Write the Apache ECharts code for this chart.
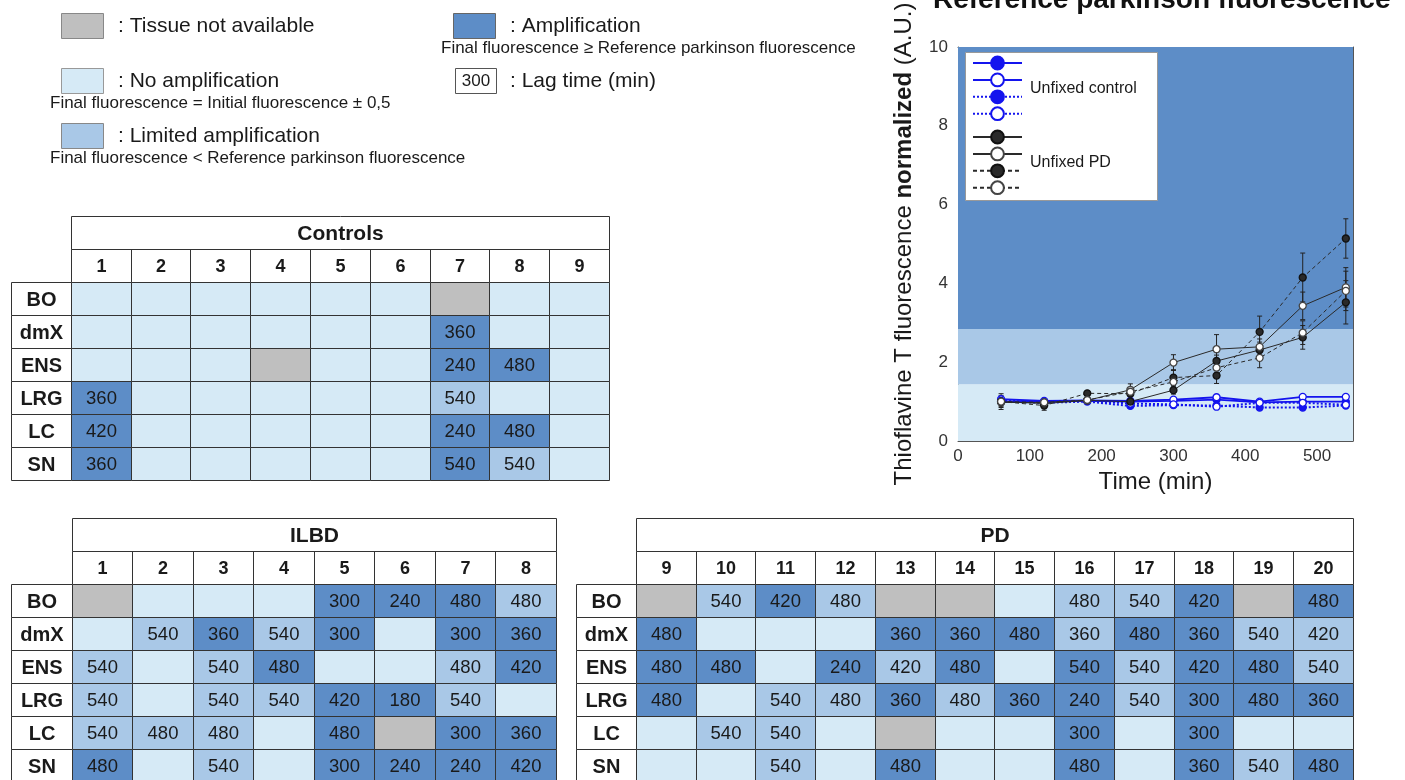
<!DOCTYPE html>
<html><head><meta charset="utf-8">
<script src="https://cdn.jsdelivr.net/npm/echarts@6/dist/echarts.min.js"></script>
<style>html,body{margin:0;padding:0;background:#fff}#c{width:1405px;height:780px}</style>
</head><body><div id="c"></div>
<script>
// ---------- table data ----------
const regions = ['BO','dmX','ENS','LRG','LC','SN'];
const ctrlCols = ['1','2','3','4','5','6','7','8','9'];
const ilbdCols = ['1','2','3','4','5','6','7','8'];
const pdCols = ['9','10','11','12','13','14','15','16','17','18','19','20'];
// status: 0 tissue not available, 1 no amplification, 2 limited amplification, 3 amplification
const ctrlStatus = [
 [1,1,1,1,1,1,0,1,1],
 [1,1,1,1,1,1,3,1,1],
 [1,1,1,0,1,1,3,3,1],
 [3,1,1,1,1,1,2,1,1],
 [3,1,1,1,1,1,3,3,1],
 [3,1,1,1,1,1,3,2,1]];
const ctrlLag = [
 [null,null,null,null,null,null,null,null,null],
 [null,null,null,null,null,null,360,null,null],
 [null,null,null,null,null,null,240,480,null],
 [360,null,null,null,null,null,540,null,null],
 [420,null,null,null,null,null,240,480,null],
 [360,null,null,null,null,null,540,540,null]];
const ilbdStatus = [
 [0,1,1,1,3,3,3,2],
 [1,2,3,2,3,1,3,3],
 [2,1,2,3,1,1,2,3],
 [2,1,2,2,3,3,2,1],
 [2,2,2,1,3,0,3,3],
 [3,1,2,1,3,3,3,3]];
const ilbdLag = [
 [null,null,null,null,300,240,480,480],
 [null,540,360,540,300,null,300,360],
 [540,null,540,480,null,null,480,420],
 [540,null,540,540,420,180,540,null],
 [540,480,480,null,480,null,300,360],
 [480,null,540,null,300,240,240,420]];
const pdStatus = [
 [0,2,3,2,0,0,1,2,2,3,0,3],
 [3,1,1,1,3,3,3,2,3,3,2,2],
 [3,3,1,3,2,3,1,3,2,3,3,2],
 [3,1,2,2,3,2,3,3,2,3,3,3],
 [1,2,2,1,0,1,1,3,1,3,1,1],
 [1,1,2,1,3,1,1,3,1,3,2,3]];
const pdLag = [
 [null,540,420,480,null,null,null,480,540,420,null,480],
 [480,null,null,null,360,360,480,360,480,360,540,420],
 [480,480,null,240,420,480,null,540,540,420,480,540],
 [480,null,540,480,360,480,360,240,540,300,480,360],
 [null,540,540,null,null,null,null,300,null,300,null,null],
 [null,null,540,null,480,null,null,480,null,360,540,480]];

// ---------- kinetics data ----------
const times = [60,120,180,240,300,360,420,480,540];
const ctrlSolidFilled = [1.00,1.00,1.02,1.00,1.02,1.05,0.98,1.00,1.00];
const ctrlSolidOpen   = [1.06,1.02,1.03,1.02,1.05,1.11,1.00,1.12,1.12];
const ctrlDotFilled   = [1.00,0.97,1.00,0.89,0.91,0.90,0.85,0.85,0.90];
const ctrlDotOpen     = [1.02,1.00,1.02,0.95,0.93,0.87,0.97,0.97,0.92];
const pdSolidFilled   = [1.00,0.95,1.03,1.00,1.29,2.03,2.31,2.63,3.52];
const pdSolidOpen     = [0.98,0.98,1.03,1.30,1.99,2.33,2.39,3.43,3.90];
const pdDashFilled    = [1.00,0.90,1.21,1.20,1.61,1.66,2.77,4.15,5.14];
const pdDashOpen      = [1.00,0.98,1.04,1.25,1.50,1.86,2.11,2.75,3.81];
const pdSolidFilledErr = [0.15,0.10,0.05,0.15,0.10,0.15,0.20,0.30,0.55];
const pdSolidOpenErr   = [0.10,0.10,0.05,0.15,0.20,0.37,0.20,0.35,0.50];
const pdDashFilledErr  = [0.20,0.12,0.05,0.12,0.20,0.20,0.40,0.62,0.50];
const pdDashOpenErr    = [0.10,0.08,0.05,0.10,0.15,0.15,0.25,0.30,0.50];
const bandEdges = [0, 1.44, 2.84, 10];

// ---------- styling ----------
const FONT = '"Liberation Sans", Arial, sans-serif';
const COLORS = ['#bfbfbf','#d6eaf6','#a9c8e7','#5d8dc7'];
const BAND_COLORS = ['#d6eaf6','#a9c8e7','#5d8dc7'];
const BLUE = '#1414ee';
const DARK = '#2a2a2a';

function cellRect(api, c, r, c2) {
  const p = api.coord([c, r]);
  const s = api.size([1, 1]);
  const p2 = c2 == null ? p : api.coord([c2, r]);
  const x0 = Math.round(p[0] - s[0] / 2), x1 = Math.round(p2[0] + s[0] / 2);
  const y0 = Math.round(p[1] - s[1] / 2), y1 = Math.round(p[1] + s[1] / 2);
  return {x: x0 + 0.5, y: y0 + 0.5, width: x1 - x0, height: y1 - y0};
}
function cellGroup(rect, fill, text, font) {
  const ch = [{type: 'rect', shape: rect, style: {fill: fill, stroke: '#333', lineWidth: 1}}];
  if (text != null && text !== '') {
    ch.push({type: 'text', style: {text: String(text), x: rect.x + rect.width / 2, y: rect.y + rect.height / 2 + 1,
      align: 'center', verticalAlign: 'middle', font: font, fill: '#1a1a1a'}});
  }
  return {type: 'group', children: ch};
}

function tableParts(gi, title, cols, status, lag) {
  const cells = [];
  status.forEach((row, r) => row.forEach((s, c) => cells.push({c: c + 1, r: r + 2, s: s, lag: lag[r][c]})));
  const heads = cols.map((t, c) => ({c: c + 1, r: 1, t: t}));
  const labs = regions.map((t, r) => ({c: 0, r: r + 2, t: t}));
  const xAxis = {type: 'category', gridIndex: gi, data: ['lab'].concat(cols), show: false};
  const yAxis = {type: 'category', gridIndex: gi, data: ['title', 'cols'].concat(regions), inverse: true, show: false};
  const series = [
    {type: 'custom', xAxisIndex: gi, yAxisIndex: gi, silent: true, data: cells.map(d => [d.c, d.r]),
     renderItem: (p, api) => { const d = cells[p.dataIndex];
       return cellGroup(cellRect(api, d.c, d.r), COLORS[d.s], d.lag, '18.5px ' + FONT); }},
    {type: 'custom', xAxisIndex: gi, yAxisIndex: gi, silent: true, data: heads.map(d => [d.c, d.r]),
     renderItem: (p, api) => { const d = heads[p.dataIndex];
       return cellGroup(cellRect(api, d.c, d.r), '#fff', d.t, 'bold 18px ' + FONT); }},
    {type: 'custom', xAxisIndex: gi, yAxisIndex: gi, silent: true, data: labs.map(d => [d.c, d.r]),
     renderItem: (p, api) => { const d = labs[p.dataIndex];
       return cellGroup(cellRect(api, d.c, d.r), '#fff', d.t, 'bold 20px ' + FONT); }},
    {type: 'custom', xAxisIndex: gi, yAxisIndex: gi, silent: true, data: [[1, 0]],
     renderItem: (p, api) => cellGroup(cellRect(api, 1, 0, cols.length), '#fff', title, 'bold 21px ' + FONT)}
  ];
  return {xAxis, yAxis, series};
}

const tCtrl = tableParts(0, 'Controls', ctrlCols, ctrlStatus, ctrlLag);
const tIlbd = tableParts(1, 'ILBD', ilbdCols, ilbdStatus, ilbdLag);
const tPd = tableParts(2, 'PD', pdCols, pdStatus, pdLag);

function pts(v) { return times.map((t, i) => [t, v[i]]); }
function lineSeries(name, vals, color, dash, width, filled, borderColor) {
  return {
    name: name, type: 'line', xAxisIndex: 3, yAxisIndex: 3, data: pts(vals),
    symbol: 'circle', symbolSize: 7, silent: true, z: 4,
    lineStyle: {color: color, width: width, type: dash},
    itemStyle: {color: filled ? color : '#ffffff', borderColor: borderColor, borderWidth: 1.3, opacity: 1},
    emphasis: {disabled: true}
  };
}
const errData = [];
[[pdSolidFilled, pdSolidFilledErr], [pdSolidOpen, pdSolidOpenErr], [pdDashFilled, pdDashFilledErr], [pdDashOpen, pdDashOpenErr]]
  .forEach(([v, e]) => times.forEach((t, i) => errData.push([t, v[i] - e[i], v[i] + e[i]])));

const lines = [
  lineSeries('Unfixed control A', ctrlSolidFilled, BLUE, 'solid', 1.8, true, BLUE),
  lineSeries('Unfixed control B', ctrlSolidOpen, BLUE, 'solid', 1.8, false, BLUE),
  lineSeries('Unfixed control C', ctrlDotFilled, BLUE, [2, 2], 2, true, BLUE),
  lineSeries('Unfixed control D', ctrlDotOpen, BLUE, [2, 2], 2, false, BLUE),
  lineSeries('Unfixed PD A', pdSolidFilled, DARK, 'solid', 1, true, '#111'),
  lineSeries('Unfixed PD B', pdSolidOpen, DARK, 'solid', 1, false, '#444'),
  lineSeries('Unfixed PD C', pdDashFilled, DARK, [4, 3], 1, true, '#111'),
  lineSeries('Unfixed PD D', pdDashOpen, DARK, [4, 3], 1, false, '#444')
];
lines[0].markArea = {
  silent: true,
  data: BAND_COLORS.map((col, i) => [{yAxis: bandEdges[i], itemStyle: {color: col, opacity: 1}}, {yAxis: bandEdges[i + 1]}])
};
lines[0].z = 2;

const errSeries = {
  type: 'custom', xAxisIndex: 3, yAxisIndex: 3, silent: true, z: 3, data: errData,
  renderItem: (p, api) => {
    const a = api.coord([api.value(0), api.value(1)]);
    const b = api.coord([api.value(0), api.value(2)]);
    const st = {stroke: '#222', lineWidth: 1};
    return {type: 'group', children: [
      {type: 'line', shape: {x1: a[0], y1: a[1], x2: b[0], y2: b[1]}, style: st},
      {type: 'line', shape: {x1: a[0] - 2.5, y1: a[1], x2: a[0] + 2.5, y2: a[1]}, style: st},
      {type: 'line', shape: {x1: b[0] - 2.5, y1: b[1], x2: b[0] + 2.5, y2: b[1]}, style: st}
    ]};
  }
};

const axisCommon = {
  axisLine: {show: true, onZero: false, lineStyle: {color: '#555', width: 1}},
  axisTick: {show: true, inside: true, length: 5, lineStyle: {color: '#555'}},
  splitLine: {show: false}
};

const legendCommon = {
  orient: 'vertical', left: 972, itemWidth: 49, itemHeight: 16, itemGap: 1.5, padding: 0,
  selectedMode: false, formatter: () => '', z: 10, textStyle: {fontSize: 1}
};

const txt = (t, x, y, size) => ({type: 'text', z: 10, style: {text: t, x: x, y: y, verticalAlign: 'middle', font: size + 'px ' + FONT, fill: '#1a1a1a'}});
const box = (x, y, fill, stroke) => ({type: 'rect', z: 10, shape: {x: x + 0.5, y: y + 0.5, width: 42, height: 25}, style: {fill: fill, stroke: stroke, lineWidth: 1}});

const option = {
  animation: false,
  backgroundColor: '#fff',
  textStyle: {fontFamily: FONT},
  title: {text: 'Reference parkinson fluorescence', left: 933, top: -14, padding: 0,
    textStyle: {fontSize: 28, fontWeight: 'bold', color: '#111', fontFamily: FONT}},
  grid: [
    {left: 11, top: 216, width: 598, height: 264, outerBoundsMode: 'none', containLabel: false},
    {left: 11, top: 518, width: 545, height: 264, outerBoundsMode: 'none', containLabel: false},
    {left: 576, top: 518, width: 777, height: 264, outerBoundsMode: 'none', containLabel: false},
    {left: 958, top: 47, width: 395, height: 394, outerBoundsMode: 'none', containLabel: false}
  ],
  xAxis: [tCtrl.xAxis, tIlbd.xAxis, tPd.xAxis,
    Object.assign({type: 'value', gridIndex: 3, min: 0, max: 550, interval: 100, position: 'bottom',
      axisLabel: {fontSize: 17, color: '#333', margin: 7, showMaxLabel: false},
      name: 'Time (min)', nameLocation: 'middle', nameGap: 28, nameTextStyle: {fontSize: 24, color: '#1a1a1a'}}, axisCommon),
    Object.assign({type: 'value', gridIndex: 3, min: 0, max: 550, interval: 100, position: 'top', axisLabel: {show: false}}, axisCommon)
  ],
  yAxis: [tCtrl.yAxis, tIlbd.yAxis, tPd.yAxis,
    Object.assign({type: 'value', gridIndex: 3, min: 0, max: 10, interval: 2, position: 'left',
      axisLabel: {fontSize: 17, color: '#333', margin: 10},
      name: '{a|Thioflavine T fluorescence }{b|normalized}{a| (A.U.)}', nameLocation: 'middle', nameGap: 42, nameRotate: 90,
      nameTextStyle: {fontSize: 24, color: '#1a1a1a', rich: {a: {fontSize: 24, color: '#1a1a1a'}, b: {fontSize: 24, fontWeight: 'bold', color: '#1a1a1a'}}}}, axisCommon),
    Object.assign({type: 'value', gridIndex: 3, min: 0, max: 10, interval: 2, position: 'right', axisLabel: {show: false}}, axisCommon)
  ],
  legend: [
    Object.assign({top: 55, data: lines.slice(0, 4).map(s => s.name)}, legendCommon),
    Object.assign({top: 129, data: lines.slice(4).map(s => s.name)}, legendCommon)
  ],
  graphic: [
    {type: 'rect', z: 5, shape: {x: 965.5, y: 52.5, width: 192, height: 148}, style: {fill: '#fff', stroke: '#999', lineWidth: 1}},
    txt('Unfixed control', 1030, 89, 16),
    txt('Unfixed PD', 1030, 163, 16),
    box(61, 13, COLORS[0], '#888'), txt(': Tissue not available', 118, 26, 21),
    box(61, 68, COLORS[1], '#999'), txt(': No amplification', 118, 81, 21),
    txt('Final fluorescence = Initial fluorescence \u00b1 0,5', 50, 103, 17),
    box(61, 123, COLORS[2], '#888'), txt(': Limited amplification', 118, 136, 21),
    txt('Final fluorescence < Reference parkinson fluorescence', 50, 158, 17),
    box(453, 13, COLORS[3], '#666'), txt(': Amplification', 510, 26, 21),
    txt('Final fluorescence \u2265 Reference parkinson fluorescence', 441, 48, 17),
    {type: 'rect', z: 10, shape: {x: 455.5, y: 68.5, width: 41, height: 25}, style: {fill: '#fff', stroke: '#555', lineWidth: 1}},
    {type: 'text', z: 11, style: {text: '300', x: 476, y: 81, align: 'center', verticalAlign: 'middle', font: '17px ' + FONT, fill: '#1a1a1a'}},
    txt(': Lag time (min)', 510, 81, 21)
  ],
  series: [].concat(tCtrl.series, tIlbd.series, tPd.series, lines, [errSeries])
};
const chart = echarts.init(document.getElementById('c'), null, {renderer: 'canvas'});
chart.setOption(option);
</script></body></html>
